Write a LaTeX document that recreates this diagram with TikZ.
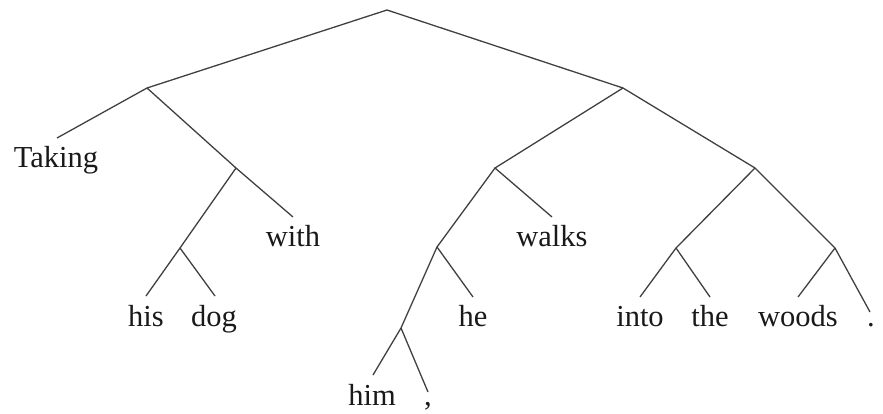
\documentclass[tikz,border=0pt]{standalone}
\usepackage{fontspec}
\setmainfont{Liberation Serif}
\begin{document}
\begin{tikzpicture}[x=1pt,y=-1pt,
  edge/.style={draw=black!75,line width=1.3pt},
  word/.style={anchor=base,inner sep=0pt,font=\fontsize{30.5}{36}\selectfont,text=black!90}]
\useasboundingbox (0,0) rectangle (883,413);
% internal nodes
\coordinate (root) at (387,10);
\coordinate (L) at (147,88);
\coordinate (R) at (623,88);
\coordinate (LM) at (236,168);
\coordinate (LL) at (180,248);
\coordinate (RL) at (495,168);
\coordinate (RR) at (755,168);
\coordinate (RLL) at (437,247);
\coordinate (RLLL) at (401,328);
\coordinate (RRL) at (676,248);
\coordinate (RRR) at (835,248);
% leaf line ends
\coordinate (eTaking) at (57,138);
\coordinate (ewith) at (293,217);
\coordinate (ehis) at (146,296);
\coordinate (edog) at (215,296);
\coordinate (ewalks) at (552,217);
\coordinate (ehe) at (473,297);
\coordinate (ehim) at (373,375);
\coordinate (ecomma) at (428,392);
\coordinate (einto) at (640,297);
\coordinate (ethe) at (710,297);
\coordinate (ewoods) at (798,297);
\coordinate (eperiod) at (870,312);
% words
\node[word] (Taking) at (56,167) {Taking};
\node[word] (with) at (293,246) {with};
\node[word] (his) at (146,326) {his};
\node[word] (dog) at (214,326) {dog};
\node[word] (walks) at (552,246) {walks};
\node[word] (he) at (473,326) {he};
\node[word] (him) at (372,405) {him};
\node[word] (comma) at (428,405) {,};
\node[word] (into) at (640,326) {into};
\node[word] (the) at (710,326) {the};
\node[word] (woods) at (798,326) {woods};
\node[word] (period) at (871,326) {.};
% edges
\draw[edge] (eTaking) -- (L) -- (root) -- (R) -- (RR) -- (RRR) -- (eperiod);
\draw[edge] (L) -- (LM) -- (ewith);
\draw[edge] (LM) -- (LL) -- (ehis);
\draw[edge] (LL) -- (edog);
\draw[edge] (R) -- (RL) -- (ewalks);
\draw[edge] (RL) -- (RLL) -- (ehe);
\draw[edge] (RLL) -- (RLLL) -- (ehim);
\draw[edge] (RLLL) -- (ecomma);
\draw[edge] (RR) -- (RRL) -- (einto);
\draw[edge] (RRL) -- (ethe);
\draw[edge] (RRR) -- (ewoods);
\end{tikzpicture}
\end{document}
